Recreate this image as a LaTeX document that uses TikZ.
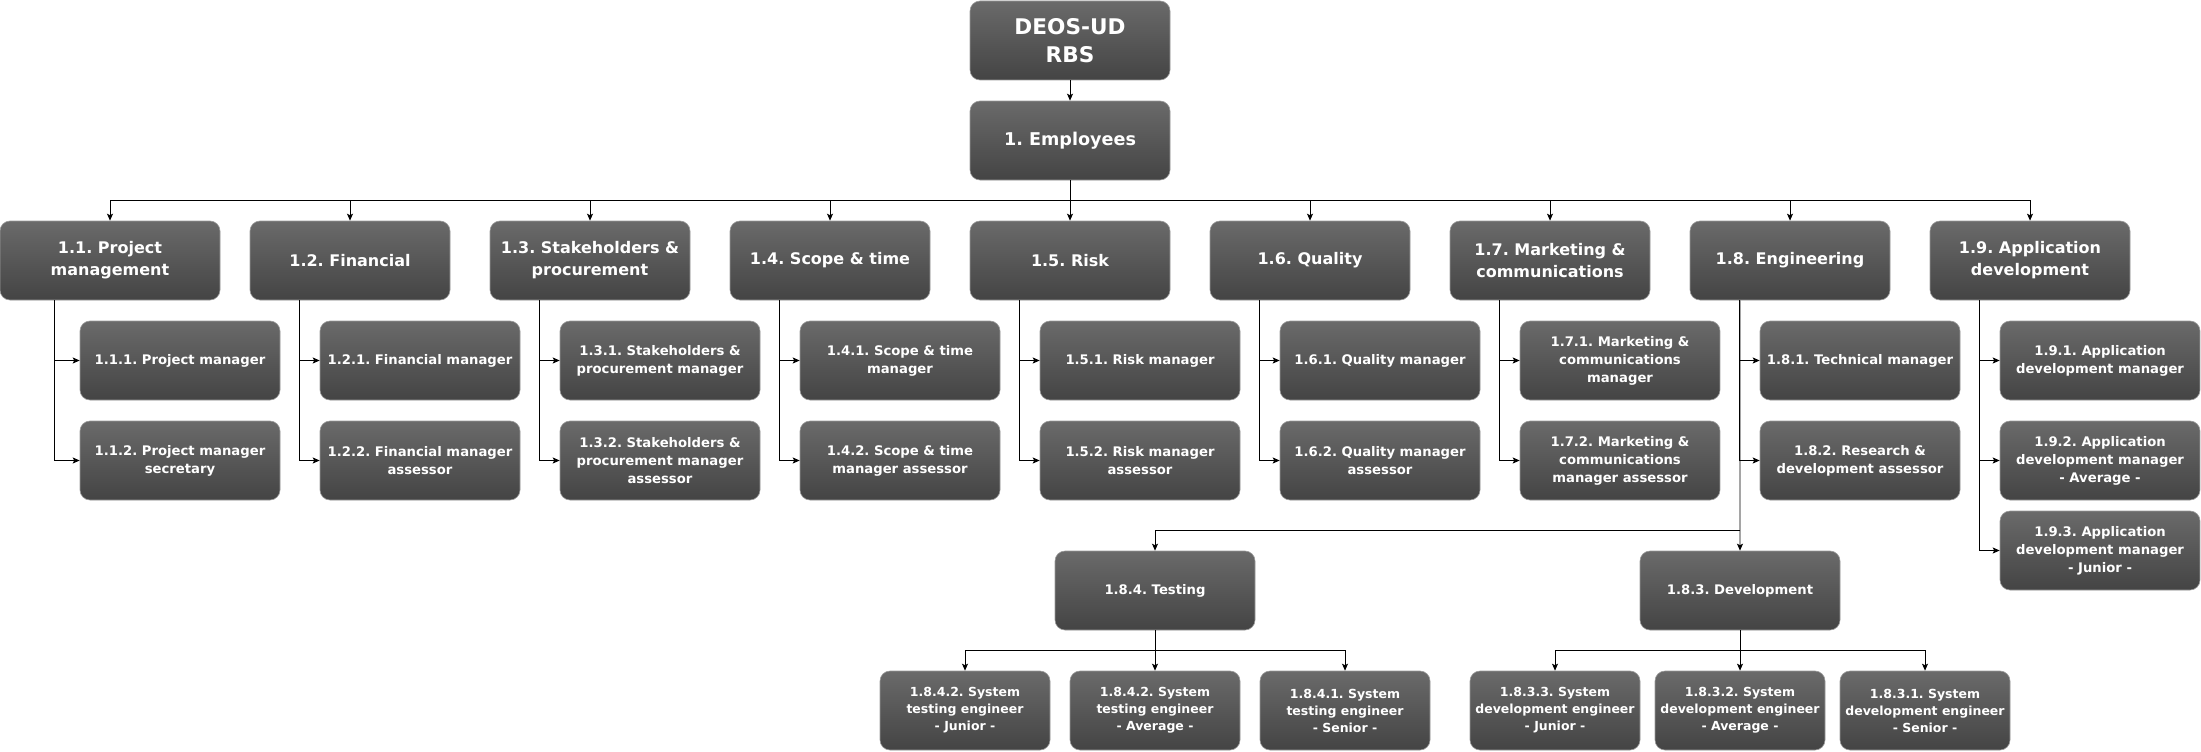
\documentclass[tikz,border=0pt]{standalone}
\usepackage{fontspec}
\setmainfont{DejaVu Sans}
\usepackage{xcolor}
\usetikzlibrary{calc,arrows.meta}
\definecolor{boxtop}{HTML}{6A6A6A}
\definecolor{boxbot}{HTML}{444444}
\definecolor{boxline}{HTML}{9A9A9A}
\frenchspacing

\begin{document}
\begin{tikzpicture}[x=1pt, y=-1pt,
  box/.style={rectangle, rounded corners=10pt, draw=boxline, line width=0.6pt, top color=boxtop, bottom color=boxbot, text=white, align=center, minimum width=200pt, minimum height=79pt, inner sep=2pt},
  rootbox/.style={box, font=\fontsize{21.6}{28}\selectfont\bfseries},
  empbox/.style={box, font=\fontsize{17.6}{23}\selectfont\bfseries},
  catbox/.style={box, font=\fontsize{16}{22}\selectfont\bfseries},
  rolebox/.style={box, font=\fontsize{13.2}{18}\selectfont\bfseries},
  levelbox/.style={box, minimum width=170pt, font=\fontsize{12.5}{17}\selectfont\bfseries},
  link/.style={draw=black, line width=0.9pt, -{Stealth[length=7pt,width=6pt,inset=1.5pt]}}]
  \useasboundingbox (0,0) rectangle (2201,752);
  \node[rootbox] (root) at (1070,40.5) {DEOS-UD\\RBS};
  \node[empbox] (emp) at (1070,140.5) {1. Employees};
  \node[catbox, minimum width=220pt] (pm) at (110,260.5) {1.1. Project\\management};
  \node[catbox] (fin) at (350,260.5) {1.2. Financial};
  \node[catbox] (stk) at (590,260.5) {1.3. Stakeholders \&\\procurement};
  \node[catbox] (scp) at (830,260.5) {1.4. Scope \& time};
  \node[catbox] (rsk) at (1070,260.5) {1.5. Risk};
  \node[catbox] (qly) at (1310,260.5) {1.6. Quality};
  \node[catbox] (mkt) at (1550,260.5) {1.7. Marketing \&\\communications};
  \node[catbox] (eng) at (1790,260.5) {1.8. Engineering};
  \node[catbox] (app) at (2030,260.5) {1.9. Application\\development};
  \node[rolebox] (pm1) at (180,360.5) {1.1.1. Project manager};
  \node[rolebox] (pm2) at (180,460.5) {1.1.2. Project manager\\secretary};
  \node[rolebox] (fin1) at (420,360.5) {1.2.1. Financial manager};
  \node[rolebox] (fin2) at (420,460.5) {1.2.2. Financial manager\\assessor};
  \node[rolebox] (stk1) at (660,360.5) {1.3.1. Stakeholders \&\\procurement manager};
  \node[rolebox] (stk2) at (660,460.5) {1.3.2. Stakeholders \&\\procurement manager\\assessor};
  \node[rolebox] (scp1) at (900,360.5) {1.4.1. Scope \& time\\manager};
  \node[rolebox] (scp2) at (900,460.5) {1.4.2. Scope \& time\\manager assessor};
  \node[rolebox] (rsk1) at (1140,360.5) {1.5.1. Risk manager};
  \node[rolebox] (rsk2) at (1140,460.5) {1.5.2. Risk manager\\assessor};
  \node[rolebox] (qly1) at (1380,360.5) {1.6.1. Quality manager};
  \node[rolebox] (qly2) at (1380,460.5) {1.6.2. Quality manager\\assessor};
  \node[rolebox] (mkt1) at (1620,360.5) {1.7.1. Marketing \&\\communications\\manager};
  \node[rolebox] (mkt2) at (1620,460.5) {1.7.2. Marketing \&\\communications\\manager assessor};
  \node[rolebox] (eng1) at (1860,360.5) {1.8.1. Technical manager};
  \node[rolebox] (eng2) at (1860,460.5) {1.8.2. Research \&\\development assessor};
  \node[rolebox] (app1) at (2100,360.5) {1.9.1. Application\\development manager};
  \node[rolebox] (app2) at (2100,460.5) {1.9.2. Application\\development manager\\- Average -};
  \node[rolebox] (app3) at (2100,550.5) {1.9.3. Application\\development manager\\- Junior -};
  \node[rolebox] (tst) at (1155,590.5) {1.8.4. Testing};
  \node[rolebox] (dev) at (1740,590.5) {1.8.3. Development};
  \node[levelbox] (tstjun) at (965,710.5) {1.8.4.2. System\\testing engineer\\- Junior -};
  \node[levelbox] (tstavg) at (1155,710.5) {1.8.4.2. System\\testing engineer\\- Average -};
  \node[levelbox] (tstsen) at (1345,710.5) {1.8.4.1. System\\testing engineer\\- Senior -};
  \node[levelbox] (devjun) at (1555,710.5) {1.8.3.3. System\\development engineer\\- Junior -};
  \node[levelbox] (devavg) at (1740,710.5) {1.8.3.2. System\\development engineer\\- Average -};
  \node[levelbox] (devsen) at (1925,710.5) {1.8.3.1. System\\development engineer\\- Senior -};
  \coordinate (bus) at (1070,200);
  \coordinate (engbus) at (1740,530);
  \coordinate (tstbus) at (1155,650);
  \coordinate (devbus) at (1740,650);
  \draw[link] (root) -- (emp);
  \draw[link] (emp) -- (rsk);
  \draw[link] (bus) -| (pm);
  \draw[link] (bus) -| (fin);
  \draw[link] (bus) -| (stk);
  \draw[link] (bus) -| (scp);
  \draw[link] (bus) -| (qly);
  \draw[link] (bus) -| (mkt);
  \draw[link] (bus) -| (eng);
  \draw[link] (bus) -| (app);
  \draw[link] ($(pm.south west)!.25!(pm.south east)$) |- (pm1);
  \draw[link] ($(pm.south west)!.25!(pm.south east)$) |- (pm2);
  \draw[link] ($(fin.south west)!.25!(fin.south east)$) |- (fin1);
  \draw[link] ($(fin.south west)!.25!(fin.south east)$) |- (fin2);
  \draw[link] ($(stk.south west)!.25!(stk.south east)$) |- (stk1);
  \draw[link] ($(stk.south west)!.25!(stk.south east)$) |- (stk2);
  \draw[link] ($(scp.south west)!.25!(scp.south east)$) |- (scp1);
  \draw[link] ($(scp.south west)!.25!(scp.south east)$) |- (scp2);
  \draw[link] ($(rsk.south west)!.25!(rsk.south east)$) |- (rsk1);
  \draw[link] ($(rsk.south west)!.25!(rsk.south east)$) |- (rsk2);
  \draw[link] ($(qly.south west)!.25!(qly.south east)$) |- (qly1);
  \draw[link] ($(qly.south west)!.25!(qly.south east)$) |- (qly2);
  \draw[link] ($(mkt.south west)!.25!(mkt.south east)$) |- (mkt1);
  \draw[link] ($(mkt.south west)!.25!(mkt.south east)$) |- (mkt2);
  \draw[link] ($(eng.south west)!.25!(eng.south east)$) |- (eng1);
  \draw[link] ($(eng.south west)!.25!(eng.south east)$) |- (eng2);
  \draw[link] ($(eng.south west)!.25!(eng.south east)$) -- (dev);
  \draw[link] (engbus) -| (tst);
  \draw[link] ($(app.south west)!.25!(app.south east)$) |- (app1);
  \draw[link] ($(app.south west)!.25!(app.south east)$) |- (app2);
  \draw[link] ($(app.south west)!.25!(app.south east)$) |- (app3);
  \draw[link] (tst) -- (tstavg);
  \draw[link] (tstbus) -| (tstjun);
  \draw[link] (tstbus) -| (tstsen);
  \draw[link] (dev) -- (devavg);
  \draw[link] (devbus) -| (devjun);
  \draw[link] (devbus) -| (devsen);
\end{tikzpicture}
\end{document}
